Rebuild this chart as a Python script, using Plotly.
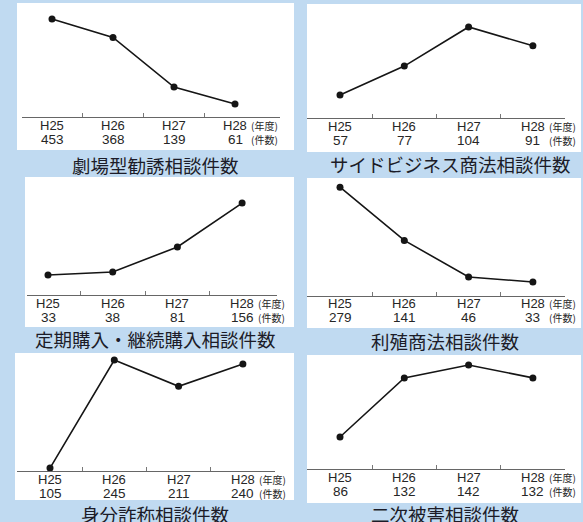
import plotly.graph_objects as go

# ---- data ----
YEARS = ["H25", "H26", "H27", "H28"]
TITLES = [
    "劇場型勧誘相談件数",
    "サイドビジネス商法相談件数",
    "定期購入・継続購入相談件数",
    "利殖商法相談件数",
    "身分詐称相談件数",
    "二次被害相談件数",
]
GEKIJO = [453, 368, 139, 61]
SIDE_BIZ = [57, 77, 104, 91]
TEIKI = [33, 38, 81, 156]
RISHOKU = [279, 141, 46, 33]
MIBUN = [105, 245, 211, 240]
NIJI = [86, 132, 142, 132]
SERIES = [GEKIJO, SIDE_BIZ, TEIKI, RISHOKU, MIBUN, NIJI]
UNIT_YEAR = "(年度)"
UNIT_COUNT = "(件数)"

# ---- layout geometry (pixels) ----
W, H = 583, 522
GEOM = [
    dict(box=(17, 294, 3, 150), ax=(22, 280), ay=117.2, top=3, p0=52, step=61.0, yr=(0, 527), tc=(155, 165)),
    dict(box=(307, 581, 4, 152), ax=(307, 565), ay=118, top=5, p0=340, step=64.3, yr=(41.1, 119.2), tc=(450, 164)),
    dict(box=(25, 294, 177, 327), ax=(27, 277), ay=295, top=180, p0=48, step=64.7, yr=(-1.2, 195.4), tc=(155, 339)),
    dict(box=(307, 581, 178, 328), ax=(307, 565), ay=295.7, top=178, p0=340, step=64.3, yr=(-2.6, 303), tc=(445, 341)),
    dict(box=(15, 294, 353, 500), ax=(17, 275), ay=471, top=355, p0=50, step=64.3, yr=(101.2, 251.6), tc=(155, 514)),
    dict(box=(307, 581, 355, 503), ax=(307, 565), ay=469, top=355, p0=340, step=64.3, yr=(61.1, 149.8), tc=(445, 514)),
]

BG = "#c0daf1"
LATIN = "Liberation Sans, Arial, Noto Sans CJK JP"
CJK = "Noto Sans CJK JP"
TXT = "#262626"


def px(x):
    return x / W


def py(y):
    return 1 - y / H


fig = go.Figure()
shapes = []
annotations = []
layout = {}

for k, (vals, g, title) in enumerate(zip(SERIES, GEOM, TITLES)):
    n = k + 1
    xa = "x" if n == 1 else f"x{n}"
    ya = "y" if n == 1 else f"y{n}"
    xkey = "xaxis" if n == 1 else f"xaxis{n}"
    ykey = "yaxis" if n == 1 else f"yaxis{n}"
    xs = list(range(len(YEARS)))

    fig.add_trace(go.Scatter(
        x=xs, y=vals, mode="lines+markers",
        line=dict(color="#151515", width=1.6),
        marker=dict(color="#151515", size=7),
        xaxis=xa, yaxis=ya, cliponaxis=False, showlegend=False,
        hoverinfo="skip",
    ))

    ax0, ax1 = g["ax"]
    xr = ((ax0 - g["p0"]) / g["step"], (ax1 - g["p0"]) / g["step"])
    layout[xkey] = dict(
        domain=[px(ax0), px(ax1)], range=list(xr), anchor=ya,
        showline=True, linecolor="#666666", linewidth=1.3,
        ticks="inside", tickvals=[0.5, 1.5, 2.5], ticklen=4,
        tickcolor="#777777", tickwidth=1,
        showticklabels=False, showgrid=False, zeroline=False, fixedrange=True,
    )
    layout[ykey] = dict(
        domain=[py(g["ay"]), py(g["top"])], range=list(g["yr"]), anchor=xa,
        visible=False, showgrid=False, zeroline=False, fixedrange=True,
    )

    bx0, bx1, by0, by1 = g["box"]
    shapes.append(dict(type="rect", xref="paper", yref="paper",
                       x0=px(bx0), x1=px(bx1), y0=py(by1), y1=py(by0),
                       fillcolor="white", line=dict(width=0), layer="below"))

    for i, (yr_lbl, v) in enumerate(zip(YEARS, vals)):
        annotations.append(dict(x=i, xref=xa, y=py(g["ay"] + 8), yref="paper",
                                text=yr_lbl, showarrow=False, xanchor="center", yanchor="middle",
                                font=dict(family=LATIN, size=13, color=TXT)))
        annotations.append(dict(x=i, xref=xa, y=py(g["ay"] + 22), yref="paper",
                                text=str(v), showarrow=False, xanchor="center", yanchor="middle",
                                font=dict(family=LATIN, size=13.5, color=TXT)))
    last = len(YEARS) - 1
    annotations.append(dict(x=last, xref=xa, xshift=14, y=py(g["ay"] + 8), yref="paper",
                            text=UNIT_YEAR, showarrow=False, xanchor="left", yanchor="middle",
                            font=dict(family=CJK, size=10, color=TXT)))
    annotations.append(dict(x=last, xref=xa, xshift=14, y=py(g["ay"] + 22), yref="paper",
                            text=UNIT_COUNT, showarrow=False, xanchor="left", yanchor="middle",
                            font=dict(family=CJK, size=10, color=TXT)))

    tcx, tcy = g["tc"]
    annotations.append(dict(x=px(tcx), xref="paper", y=py(tcy), yref="paper",
                            text=title, showarrow=False, xanchor="center", yanchor="middle",
                            font=dict(family=CJK, size=18.5, color="#1c1c28")))

fig.update_layout(
    width=W, height=H,
    margin=dict(l=0, r=0, t=0, b=0),
    paper_bgcolor=BG, plot_bgcolor="rgba(0,0,0,0)",
    shapes=shapes, annotations=annotations,
    **layout,
)

fig.write_html("out.html")
